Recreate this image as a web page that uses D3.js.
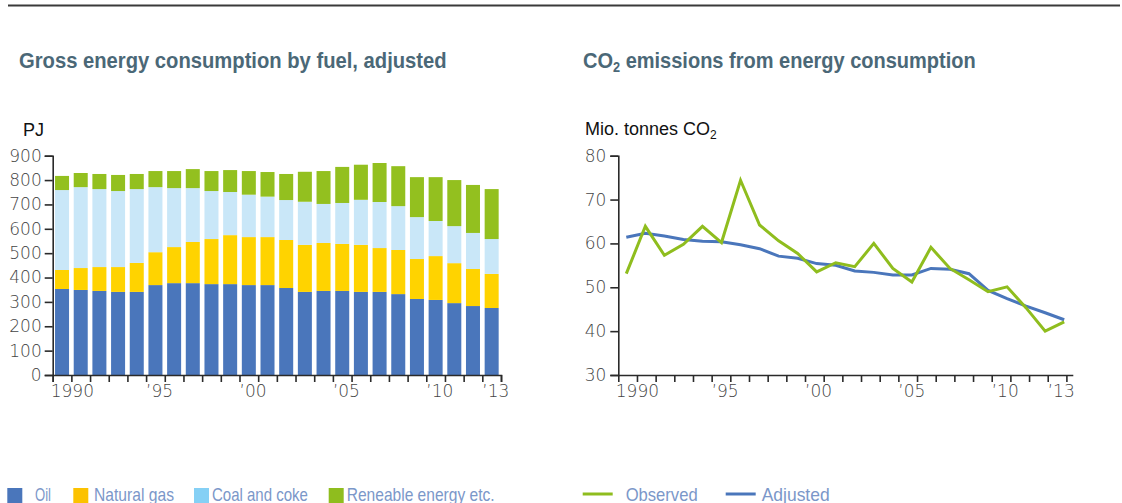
<!DOCTYPE html>
<html>
<head>
<meta charset="utf-8">
<script src="https://cdn.jsdelivr.net/npm/d3@7"></script>
<style>
  html, body { margin: 0; padding: 0; background: #fff; }
  svg { display: block; }
  text { font-family: "Liberation Sans", "DejaVu Sans", sans-serif; }
  .ticklabel { font-family: "DejaVu Sans", "Liberation Sans", sans-serif; font-weight: 200; }
</style>
</head>
<body>
<svg id="chart" width="1122" height="503"></svg>
<script>
// ---- Data -------------------------------------------------------------
const years = d3.range(1990, 2014);

// Gross energy consumption by fuel, adjusted (PJ)
const oil       = [353, 349, 345, 341, 341, 369, 377, 377, 373, 373, 369, 369, 357, 341, 345, 345, 341, 341, 332, 312, 308, 295, 283, 275];
const naturalGas = [78, 90, 98, 102, 119, 135, 148, 169, 185, 201, 197, 197, 197, 193, 197, 193, 193, 180, 181, 164, 180, 164, 152, 140];
const coalCoke  = [328, 332, 320, 312, 303, 267, 242, 221, 197, 177, 174, 166, 164, 177, 160, 168, 185, 189, 180, 172, 144, 152, 148, 143];
const renewable = [58, 58, 62, 66, 62, 66, 70, 78, 82, 90, 97, 101, 107, 123, 135, 148, 144, 160, 164, 164, 180, 189, 197, 205];

// CO2 emissions from energy consumption (mio. tonnes CO2)
const observed = [53.1, 63.9, 57.3, 59.8, 63.9, 60.2, 74.4, 64.2, 60.6, 57.7, 53.5, 55.6, 54.7, 60.0, 54.3, 51.2, 59.1, 54.3, 51.7, 49.0, 50.1, 45.3, 40.0, 42.1];
const adjusted = [61.4, 62.3, 61.7, 60.9, 60.5, 60.4, 59.7, 58.8, 57.1, 56.6, 55.4, 55.0, 53.7, 53.4, 52.8, 52.8, 54.3, 54.1, 53.1, 49.3, 47.4, 45.7, 44.2, 42.6];

const energyTicks = d3.range(0, 901, 100);
const co2Ticks = d3.range(30, 81, 10);
const labelYears = [1990, 1995, 2000, 2005, 2010, 2013];
const yearLabel = y => y === 1990 ? "1990" : "\u2019" + String(y).slice(2);

const fuelNames = ["Oil", "Natural gas", "Coal and coke", "Reneable energy etc."];
const fuelKeys = ["oil", "gas", "coal", "ren"];
const barColors = ["#4a76bb", "#ffd300", "#c9e7f8", "#93c01f"];
const legendColors = ["#4a76bb", "#fcc200", "#85d0f5", "#8fbd1e"];
const seriesNames = ["Observed", "Adjusted"];
const seriesColors = ["#8fbd1e", "#4a76bb"];

// ---- Setup ------------------------------------------------------------
const svg = d3.select("#chart");
const axisColor = "#2a2a2a";
const tickTextColor = "#444";
const titleColor = "#4b6877";
const legendTextColor = "#7b97c9";

// Squeeze a text element horizontally so that it spans the given width
function fitWidth(sel, width) {
  const w = sel.node().getBBox().width;
  const x = +sel.attr("data-x"), y = +sel.attr("data-y");
  sel.attr("x", 0).attr("y", 0)
     .attr("transform", `translate(${x},${y}) scale(${width / w},1)`);
}

// Top rule
svg.append("line")
  .attr("x1", 8).attr("x2", 1120).attr("y1", 5.5).attr("y2", 5.5)
  .attr("stroke", "#3a3a3a").attr("stroke-width", 2);

// Titles
const t1 = svg.append("text")
  .attr("data-x", 19).attr("data-y", 68)
  .attr("font-size", 22).attr("font-weight", "bold").attr("fill", titleColor)
  .text("Gross energy consumption by fuel, adjusted");
fitWidth(t1, 428);

const t2 = svg.append("text")
  .attr("data-x", 583).attr("data-y", 68)
  .attr("font-size", 22).attr("font-weight", "bold").attr("fill", titleColor);
t2.append("tspan").text("CO");
t2.append("tspan").attr("font-size", 14).attr("dy", 4).text("2");
t2.append("tspan").attr("dy", -4).text(" emissions from energy consumption");
fitWidth(t2, 393);

// ---- Left chart: stacked bars ------------------------------------------
const yTop = 155.7, yBottom = 375;
const L = { x0: 52.7, x1: 501 };

const xBand = d3.scaleBand().domain(years).range([L.x0, L.x1])
  .paddingInner(0.25).paddingOuter(0.125);
const yE = d3.scaleLinear().domain([0, 900]).range([yBottom, yTop]);

const rows = years.map((yr, i) => ({
  year: yr, oil: oil[i], gas: naturalGas[i], coal: coalCoke[i], ren: renewable[i]
}));
const stacked = d3.stack().keys(fuelKeys)(rows);

const left = svg.append("g");
left.selectAll("g.layer").data(stacked).join("g")
  .attr("class", "layer")
  .attr("fill", (d, i) => barColors[i])
  .selectAll("rect").data(d => d).join("rect")
  .attr("x", d => xBand(d.data.year))
  .attr("width", xBand.bandwidth())
  .attr("y", d => yE(d[1]))
  .attr("height", d => yE(d[0]) - yE(d[1]));

// y axis
left.append("g").attr("transform", `translate(${L.x0},0)`)
  .call(d3.axisLeft(yE).tickValues(energyTicks).tickSize(8).tickPadding(3));
// x axis (ticks at band boundaries)
const step = xBand.step();
const bound = d3.scaleLinear().domain([1990, 2014])
  .range([L.x0, L.x0 + step * 24]);
left.append("g").attr("transform", `translate(0,${yBottom})`)
  .call(d3.axisBottom(bound).tickValues(d3.range(1990, 2015)).tickSize(7).tickFormat(""));

left.selectAll("text.xl").data(labelYears).join("text")
  .attr("class", "xl ticklabel")
  .attr("x", d => bound(d) - (d === 1990 ? 2 : 0))
  .attr("y", 397)
  .attr("font-size", 17).attr("fill", tickTextColor)
  .text(yearLabel);

left.append("text").attr("x", 23).attr("y", 136)
  .attr("font-size", 18).attr("fill", "#111").text("PJ");

// ---- Right chart: lines -------------------------------------------------
const R = { x0: 618.3, x1: 1066.4 };
const boundR = d3.scaleLinear().domain([1990, 2014]).range([R.x0, R.x1]);
const xP = d3.scalePoint().domain(years).range([626.3, 1064.2]);
const yC = d3.scaleLinear().domain([30, 80]).range([yBottom, yTop]);

const right = svg.append("g");
right.append("g").attr("transform", `translate(${R.x0},0)`)
  .call(d3.axisLeft(yC).tickValues(co2Ticks).tickSize(8).tickPadding(4));
const xAxisR = right.append("g").attr("transform", `translate(0,${yBottom})`)
  .call(d3.axisBottom(boundR).tickValues(d3.range(1990, 2015)).tickSize(7).tickFormat(""));
xAxisR.select(".domain").attr("d", `M${R.x0},0.5H1073.3`);

right.selectAll("text.xl").data(labelYears).join("text")
  .attr("class", "xl ticklabel")
  .attr("x", d => boundR(d) - (d === 1990 ? 2.5 : 0))
  .attr("y", 397)
  .attr("font-size", 17).attr("fill", tickTextColor)
  .text(yearLabel);

const unit = right.append("text").attr("x", 585).attr("y", 135)
  .attr("font-size", 18).attr("fill", "#111");
unit.append("tspan").text("Mio. tonnes CO");
unit.append("tspan").attr("font-size", 12).attr("dy", 4).text("2");

const line = d3.line().x((d, i) => xP(years[i])).y(d => yC(d));
[adjusted, observed].forEach((s, k) => {
  right.append("path")
    .datum(s)
    .attr("d", line)
    .attr("fill", "none")
    .attr("stroke", k === 0 ? seriesColors[1] : seriesColors[0])
    .attr("stroke-width", 3)
    .attr("stroke-linejoin", "miter");
});

// Axis styling
svg.selectAll(".domain, .tick line")
  .attr("stroke", axisColor).attr("stroke-width", 1.6);
svg.selectAll(".tick text")
  .attr("class", "ticklabel")
  .attr("font-size", 17).attr("fill", tickTextColor);

// ---- Legends ------------------------------------------------------------
const legX = [7.3, 73.3, 194, 328.7];
const legTextX = [35, 94, 212, 346.7];
const legTextW = [16, 80, 96, 148];
fuelNames.forEach((name, i) => {
  svg.append("rect").attr("x", legX[i]).attr("y", 488)
    .attr("width", 15).attr("height", 15).attr("fill", legendColors[i]);
  const t = svg.append("text").attr("data-x", legTextX[i]).attr("data-y", 501)
    .attr("font-size", 18).attr("fill", legendTextColor).text(name);
  fitWidth(t, legTextW[i]);
});

const lineLegX = [582.7, 725.7];
const lineTextX = [625.7, 761.7];
const lineTextW = [72, 68];
seriesNames.forEach((name, i) => {
  svg.append("line").attr("x1", lineLegX[i]).attr("x2", lineLegX[i] + 30)
    .attr("y1", 494).attr("y2", 494)
    .attr("stroke", seriesColors[i]).attr("stroke-width", 3);
  const t = svg.append("text").attr("data-x", lineTextX[i]).attr("data-y", 501)
    .attr("font-size", 18).attr("fill", legendTextColor).text(name);
  fitWidth(t, lineTextW[i]);
});
</script>
</body>
</html>
